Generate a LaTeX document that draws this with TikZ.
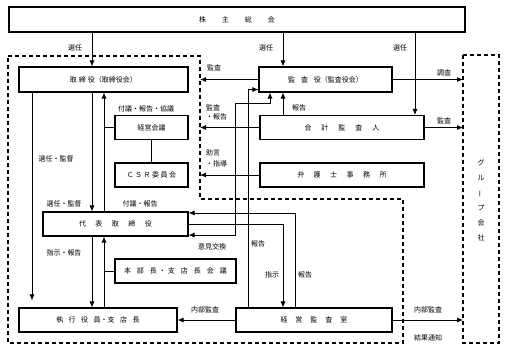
\documentclass[tikz,border=0pt]{standalone}
\usepackage{fontspec}
\usepackage{graphicx}
\setmainfont{Noto Sans CJK JP}
\usetikzlibrary{arrows.meta}
\newcommand\myhs[1]{\hspace{#1pt}}
\begin{document}
\begin{tikzpicture}[x=1pt,y=-1pt,
 box/.style={draw, line width=1.1pt, inner sep=0pt, font=\fontsize{7}{8}\selectfont},
 lbl/.style={inner sep=0pt, font=\fontsize{7}{9}\selectfont},
 conn/.style={line width=0.8pt},
 arr/.style={conn, -{Latex[length=6pt,width=5pt]}},
 arrb/.style={conn, {Latex[length=6pt,width=5pt]}-{Latex[length=6pt,width=5pt]}},
 dashbox/.style={line width=1.1pt, dash pattern=on 4pt off 3pt}]
\useasboundingbox (0,0) rectangle (507,351);
\fill[white] (0,0) rectangle (507,351);

% dashed regions
\draw[dashbox] (8,56) -- (200,56) -- (200,199) -- (403,199) -- (403,343) -- (8,343) -- cycle;
\draw[dashbox] (463,55) rectangle (499,343);
\node[lbl, align=center, font=\fontsize{7}{15}\selectfont] (grp) at (481,200) {グ\\ル\\\rotatebox[origin=c]{90}{ー}\\プ\\会\\社};

% boxes
\node[box, minimum width=456pt, minimum height=25pt] (sh) at (237,19.5) {株\myhs{16}主\myhs{16}総\myhs{16}会};
\node[box, minimum width=169pt, minimum height=25pt] (tor) at (103.5,79.5) {取\myhs{2}締\myhs{2}役（取締役会）};
\node[box, minimum width=133pt, minimum height=25pt] (kan) at (325.5,79.5) {監\myhs{6}査\myhs{6}役（監査役会）};
\node[box, minimum width=164pt, minimum height=24pt] (kai) at (342,127.5) {会\myhs{10}計\myhs{10}監\myhs{10}査\myhs{10}人};
\node[box, minimum width=164pt, minimum height=24pt] (ben) at (342,175) {弁\myhs{9.5}護\myhs{9.5}士\myhs{9.5}事\myhs{9.5}務\myhs{9.5}所};
\node[box, minimum width=73pt, minimum height=24pt] (kei) at (151.5,127.5) {経営会議};
\node[box, minimum width=73pt, minimum height=24pt] (csr) at (151.5,175) {Ｃ\myhs{1.5}Ｓ\myhs{1.5}Ｒ\myhs{1.5}委\myhs{1.5}員\myhs{1.5}会};
\node[box, minimum width=145pt, minimum height=24pt] (dai) at (115.5,224) {代\myhs{9.5}表\myhs{9.5}取\myhs{9.5}締\myhs{9.5}役};
\node[box, minimum width=121pt, minimum height=24pt] (hon) at (175.5,271) {本\myhs{6}部\myhs{6}長\myhs{2}・\myhs{2}支\myhs{6}店\myhs{6}長\myhs{6}会\myhs{6}議};
\node[box, minimum width=158pt, minimum height=24pt] (shi) at (98,320) {執\myhs{5.5}行\myhs{5.5}役\myhs{5.5}員・支\myhs{5.5}店\myhs{5.5}長};
\node[box, minimum width=156pt, minimum height=24pt] (kk) at (314,320) {経\myhs{8}営\myhs{8}監\myhs{8}査\myhs{8}室};

% reference coordinates
\coordinate (dR) at (200,0);
\coordinate (gL) at (463,0);
\coordinate (xA) at (32,0);
\coordinate (xB) at (92,0);
\coordinate (xC) at (104,0);
\coordinate (xE) at (235,0);
\coordinate (xF) at (248,0);
\coordinate (xG) at (270,0);
\coordinate (xH) at (283,0);
\coordinate (xI) at (295,0);
\coordinate (xJ) at (415,0);
\coordinate (y103) at (0,103);

% connectors
\draw[arr] (sh.south -| xB) -- (tor.north -| xB);
\draw[arr] (sh.south -| xH) -- (kan.north -| xH);
\draw[arr] (sh.south -| xJ) -- (kai.north -| xJ);
\draw[arr] (kan.west) -- (kan.west -| dR);
\draw[arr] (kan.east) -- (kan.east -| gL);
\draw[arr] (kai.east) -- (kai.east -| gL);
\draw[arr] (kai.west) -- (kai.west -| dR);
\draw[arr] (ben.west) -- (ben.west -| dR);
\draw[arr] (kai.north -| xH) -- (kan.south -| xH);
\draw[arr, shorten >=7pt] (tor.south -| xA) -- (shi.north -| xA);
\draw[arr] (tor.south -| xB) -- (dai.north -| xB);
\draw[arr] (dai.north -| xC) -- (tor.south -| xC);
\draw[conn] (kei.west) -- (kei.west -| xC);
\draw[conn] (kei.south) -- (csr.north);
\draw[arr] (dai.south -| xB) -- (shi.north -| xB);
\draw[arr] (shi.north -| xC) -- (dai.south -| xC);
\draw[conn] (hon.west) -- (hon.west -| xC);
\draw[arr] (kk.west) -- (shi.east);
\draw[arr] (kk.east) -- (kk.east -| gL);
\draw[arr] (dai.east) -| (kk.north -| xH);
\draw[arr] (kk.north -| xI) |- ([yshift=-1.5pt]dai.north east);
\draw[arrb] ([yshift=1.5pt]dai.south east) -| (xE |- y103) -| (kan.south -| xG);
\draw[arr] (kk.north -| xF) |- ([yshift=3pt]kan.south west);

% labels
\node[lbl] (l1) at (75,48) {選任};
\node[lbl] (l2) at (266,48) {選任};
\node[lbl] (l3) at (400,48) {選任};
\node[lbl] (l4) at (214,68) {監査};
\node[lbl] (l5) at (444,73) {調査};
\node[lbl] (l6) at (444,121) {監査};
\node[lbl] (l7) at (299,108) {報告};
\node[lbl, align=left, anchor=west, font=\fontsize{7}{9.5}\selectfont] (l8) at (206,112.5) {監査\\・報告};
\node[lbl, align=left, anchor=west, font=\fontsize{7}{10.5}\selectfont] (l9) at (206,158.5) {助言\\・指導};
\node[lbl] (l10) at (146,109) {付議・報告・協議};
\node[lbl] (l11) at (56,159) {選任・監督};
\node[lbl] (l12) at (64,204) {選任・監督};
\node[lbl] (l13) at (140,204) {付議・報告};
\node[lbl] (l14) at (212,247) {意見交換};
\node[lbl] (l15) at (258,244) {報告};
\node[lbl] (l16) at (64,253) {指示・報告};
\node[lbl] (l17) at (272,275) {指示};
\node[lbl] (l18) at (305,275) {報告};
\node[lbl] (l19) at (205,310) {内部監査};
\node[lbl] (l20) at (428,310) {内部監査};
\node[lbl] (l21) at (428,338) {結果通知};
\end{tikzpicture}
\end{document}
